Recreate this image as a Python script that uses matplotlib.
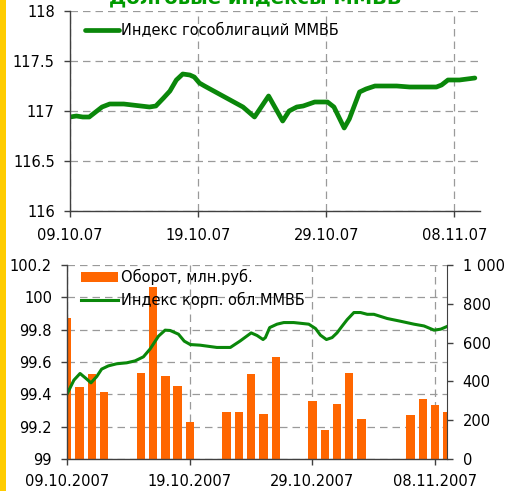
import matplotlib.pyplot as plt
from matplotlib.patches import Rectangle

# Дни от 09.10.2007
gov_days = [0, 0.5, 1.0, 1.5, 2.5, 3.1, 4.2, 6.2, 6.7, 7.3, 7.8, 8.3, 8.8, 9.35,
            9.7, 10.1, 10.5, 13.5, 14.4, 15.5, 16.6, 17.1, 17.7, 18.2, 19.1,
            20.1, 20.6, 21.4, 21.8, 22.6, 23.1, 23.8, 25.5, 26.5, 28.6, 29.0,
            29.5, 30.4, 31.6]
gov_values = [116.94, 116.95, 116.94, 116.94, 117.04, 117.07, 117.07, 117.04,
              117.05, 117.13, 117.20, 117.31, 117.37, 117.36, 117.34, 117.28,
              117.25, 117.04, 116.94, 117.15, 116.90, 117.00, 117.04, 117.05,
              117.09, 117.09, 117.04, 116.83, 116.92, 117.19, 117.22, 117.25,
              117.25, 117.24, 117.24, 117.26, 117.31, 117.31, 117.33]

corp_days = [0, 0.54, 1.04, 1.53, 1.93, 2.4, 2.8, 3.35, 4.03, 4.85, 5.53, 6.21,
             6.76, 7.44, 7.98, 8.39, 9.07, 9.54, 10.03, 10.84, 12.2, 13.3, 14.1,
             15.0, 15.48, 15.97, 16.16, 16.51, 17.11, 17.66, 18.47, 19.7, 20.25,
             20.65, 21.14, 21.6, 22.0, 22.45, 22.83, 23.38, 23.92, 24.47, 25.01,
             26.1, 27.19, 28.28, 29.1, 29.92, 30.46, 31.14]
corp_values = [99.405, 99.488, 99.529, 99.498, 99.471, 99.51, 99.556, 99.576,
               99.589, 99.595, 99.607, 99.632, 99.681, 99.76, 99.797, 99.795,
               99.772, 99.729, 99.708, 99.704, 99.69, 99.69, 99.73, 99.78,
               99.764, 99.739, 99.751, 99.813, 99.834, 99.844, 99.844, 99.834,
               99.807, 99.766, 99.739, 99.751, 99.78, 99.825, 99.862, 99.906,
               99.906, 99.895, 99.895, 99.869, 99.852, 99.834, 99.823, 99.797,
               99.803, 99.825]

bar_days = [0, 1, 2, 3, 6, 7, 8, 9, 10, 13, 14, 15, 16, 17, 20, 21, 22, 23, 24,
            28, 29, 30, 31]
turnover = [729, 370, 437, 346, 444, 885, 429, 377, 189, 240, 240, 436, 233,
            527, 300, 151, 286, 444, 204, 226, 309, 280, 242]

tick_days = [0, 10, 20, 30]
top_labels = ['09.10.07', '19.10.07', '29.10.07', '08.11.07']
bottom_labels = ['09.10.2007', '19.10.2007', '29.10.2007', '08.11.2007']

green = '#0a870a'
orange = '#ff6600'
spine_col = '#404040'
grid_kw = dict(color='#9a9a9a', linestyle=(0, (6, 4)), linewidth=0.9)
fs = 10.5

W, H = 509, 491
fig = plt.figure(figsize=(W / 100, H / 100), dpi=100)


def rect(left, top, right, bottom):
    return [left / W, 1 - bottom / H, (right - left) / W, (bottom - top) / H]


def style_axis(ax):
    ax.spines['top'].set_visible(False)
    ax.spines['right'].set_visible(False)
    for s in ['left', 'bottom']:
        ax.spines[s].set_color(spine_col)
        ax.spines[s].set_linewidth(1.0)
    ax.tick_params(direction='out', length=4, width=1, color=spine_col,
                   labelsize=fs, labelcolor='black')


# Жёлтая полоса слева
fig.patches.append(Rectangle((0, 0), 6 / W, 1, transform=fig.transFigure,
                             facecolor='#ffcc00', edgecolor='none'))

# Заголовок (обрезан сверху, как в оригинале)
fig.text(255 / W, 1 - 3 / H, 'Долговые индексы ММВБ', ha='center',
         va='baseline', fontsize=14, fontweight='bold', color='#009a00')

# ---- Верхний график ----
ax1 = fig.add_axes(rect(70, 11, 480, 211))
style_axis(ax1)
ax1.plot(gov_days, gov_values, color=green, linewidth=3.4,
         solid_joinstyle='round', solid_capstyle='round',
         label='Индекс гособлигаций ММВБ')
ax1.set_xlim(0, 32)
ax1.set_ylim(116, 118)
ax1.set_yticks([116, 116.5, 117, 117.5, 118])
ax1.set_yticklabels(['116', '116.5', '117', '117.5', '118'])
ax1.set_xticks(tick_days)
ax1.set_xticklabels(top_labels)
ax1.tick_params(axis='y', pad=7)
ax1.tick_params(axis='x', pad=8)
ax1.grid(True, **grid_kw)
ax1.set_axisbelow(True)
ax1.legend(loc='upper left', bbox_to_anchor=(15 / 410, 1 - 12 / 200),
           frameon=False, fontsize=fs, handlelength=2.3, handletextpad=0.2,
           borderpad=0, borderaxespad=0)

# ---- Нижний график ----
r = rect(67.3, 265, 447.3, 459)
ax_grid = fig.add_axes(r)
ax_grid.set_xlim(0, 31)
ax_grid.set_ylim(99, 100.2)
ax_grid.set_yticks([99, 99.2, 99.4, 99.6, 99.8, 100, 100.2])
ax_grid.set_xticks(tick_days)
ax_grid.grid(True, **grid_kw)
ax_grid.tick_params(left=False, bottom=False, labelleft=False,
                    labelbottom=False)
for s in ax_grid.spines.values():
    s.set_visible(False)

ax_bar = fig.add_axes(r)
ax_bar.patch.set_visible(False)
ax_bar.bar(bar_days, turnover, width=0.68, color=orange,
           label='Оборот, млн.руб.')
ax_bar.set_xlim(0, 31)
ax_bar.set_ylim(0, 1000)
ax_bar.yaxis.tick_right()
ax_bar.set_yticks([0, 200, 400, 600, 800, 1000])
ax_bar.set_yticklabels(['0', '200', '400', '600', '800', '1 000'])
ax_bar.tick_params(direction='out', length=4, width=1, color=spine_col,
                   labelsize=fs, pad=7)
ax_bar.tick_params(axis='x', bottom=False, labelbottom=False)
for s in ['top', 'left', 'bottom']:
    ax_bar.spines[s].set_visible(False)
ax_bar.spines['right'].set_color(spine_col)

ax2 = fig.add_axes(r)
ax2.patch.set_visible(False)
style_axis(ax2)
ax2.plot(corp_days, corp_values, color=green, linewidth=2.2,
         solid_joinstyle='round', label='Индекс корп. обл.ММВБ')
ax2.set_xlim(0, 31)
ax2.set_ylim(99, 100.2)
ax2.set_yticks([99, 99.2, 99.4, 99.6, 99.8, 100, 100.2])
ax2.set_yticklabels(['99', '99.2', '99.4', '99.6', '99.8', '100', '100.2'])
ax2.set_xticks(tick_days)
ax2.set_xticklabels(bottom_labels)
ax2.tick_params(axis='y', pad=7)
ax2.tick_params(axis='x', pad=7)

h1, l1 = ax_bar.get_legend_handles_labels()
h2, l2 = ax2.get_legend_handles_labels()
ax2.legend(h1 + h2, l1 + l2, loc='upper left',
           bbox_to_anchor=(14 / 380, 1 - 4 / 194), frameon=False, fontsize=fs,
           handlelength=2.5, handleheight=0.75, handletextpad=0.25,
           labelspacing=0.45, borderpad=0, borderaxespad=0)

fig.savefig('out.png', dpi=100)
